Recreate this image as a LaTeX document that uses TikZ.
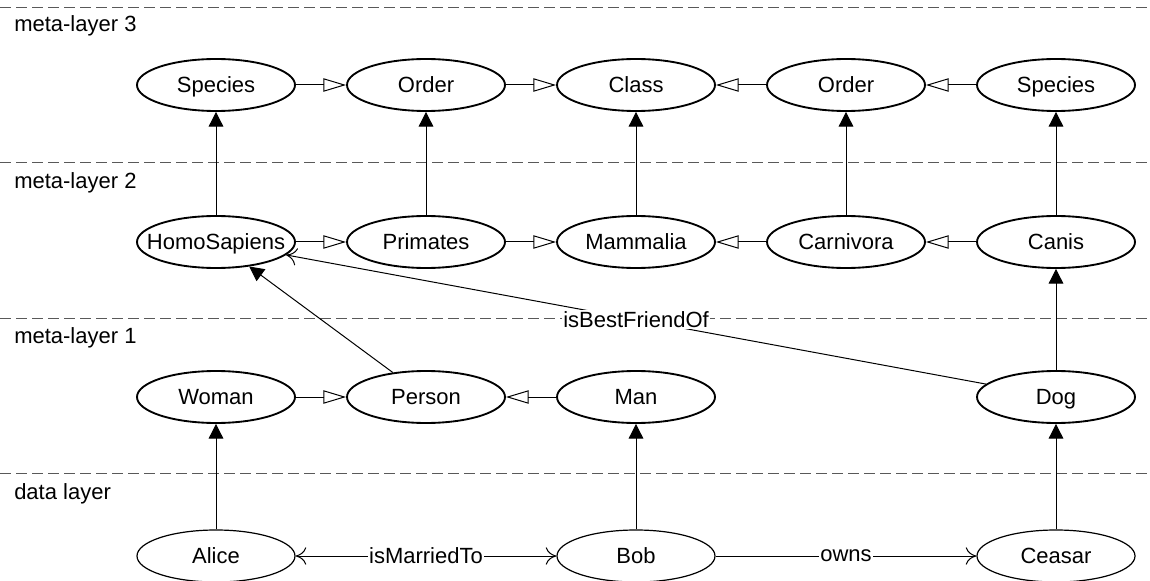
\documentclass[tikz,border=0pt]{standalone}
\usepackage{fontspec}
\setmainfont{Liberation Sans}
\usetikzlibrary{shapes.geometric,arrows.meta}
% a label that takes no width, so every ellipse keeps the same size
\newcommand\flatlabel[1]{\makebox[0pt]{#1}}
\begin{document}
\begin{tikzpicture}[x=0.75pt,y=-0.75pt,
  font=\fontsize{16.5pt}{19pt}\selectfont,
  layerline/.style={black!65,line width=0.75pt,dash pattern=on 8.25pt off 3.75pt},
  layername/.style={anchor=west,inner sep=0pt},
  anynode/.style={ellipse,draw,minimum width=118.5pt,minimum height=39pt,inner sep=0pt,text height=12pt,text depth=0.5pt},
  metanode/.style={anynode,line width=1.4pt},
  datanode/.style={anynode,line width=0.9pt},
  conn/.style={line width=0.75pt},
  subclass/.style={conn,-{Triangle[open,length=17pt,width=10pt]}},
  instanceof/.style={conn,-{Triangle[length=11pt,width=11pt]}},
  property/.style={conn,-{Computer Modern Rightarrow[length=8pt,width=13pt]}},
  bothprop/.style={conn,{Computer Modern Rightarrow[length=8pt,width=13pt]}-{Computer Modern Rightarrow[length=8pt,width=13pt]}},
  edgelabel/.style={fill=white,inner sep=1pt}]
\useasboundingbox (0,0) rectangle (1150,581);

% layer separators and their names
\coordinate (l3a) at (0,8);    \coordinate (l3b) at (1150,8);
\coordinate (l2a) at (0,163);  \coordinate (l2b) at (1150,163);
\coordinate (l1a) at (0,318);  \coordinate (l1b) at (1150,318);
\coordinate (l0a) at (0,473);  \coordinate (l0b) at (1150,473);
\draw[layerline] (l3a) -- (l3b);
\draw[layerline] (l2a) -- (l2b);
\draw[layerline] (l1a) -- (l1b);
\draw[layerline] (l0a) -- (l0b);
\node[layername] (n3) at (14,26) {meta-layer 3};
\node[layername] (n2) at (14,183) {meta-layer 2};
\node[layername] (n1) at (14,338) {meta-layer 1};
\node[layername] (n0) at (14,494) {data layer};

% meta-layer 3
\node[metanode] (species1) at (216,85) {\flatlabel{Species}};
\node[metanode] (order1)   at (426,85) {\flatlabel{Order}};
\node[metanode] (class)    at (636,85) {\flatlabel{Class}};
\node[metanode] (order2)   at (846,85) {\flatlabel{Order}};
\node[metanode] (species2) at (1056,85) {\flatlabel{Species}};

% meta-layer 2
\node[metanode] (homo)      at (216,242) {\flatlabel{HomoSapiens}};
\node[metanode] (primates)  at (426,242) {\flatlabel{Primates}};
\node[metanode] (mammalia)  at (636,242) {\flatlabel{Mammalia}};
\node[metanode] (carnivora) at (846,242) {\flatlabel{Carnivora}};
\node[metanode] (canis)     at (1056,242) {\flatlabel{Canis}};

% meta-layer 1
\node[metanode] (woman)  at (216,397) {\flatlabel{Woman}};
\node[metanode] (person) at (426,397) {\flatlabel{Person}};
\node[metanode] (man)    at (636,397) {\flatlabel{Man}};
\node[metanode] (dog)    at (1056,397) {\flatlabel{Dog}};

% data layer
\node[datanode] (alice)  at (216,556) {\flatlabel{Alice}};
\node[datanode] (bob)    at (636,556) {\flatlabel{Bob}};
\node[datanode] (ceasar) at (1056,556) {\flatlabel{Ceasar}};

% subclass relations
\draw[subclass] (species1) -- (order1);
\draw[subclass] (order1) -- (class);
\draw[subclass] (order2) -- (class);
\draw[subclass] (species2) -- (order2);
\draw[subclass] (homo) -- (primates);
\draw[subclass] (primates) -- (mammalia);
\draw[subclass] (carnivora) -- (mammalia);
\draw[subclass] (canis) -- (carnivora);
\draw[subclass] (woman) -- (person);
\draw[subclass] (man) -- (person);

% instance-of relations
\draw[instanceof] (homo) -- (species1);
\draw[instanceof] (primates) -- (order1);
\draw[instanceof] (mammalia) -- (class);
\draw[instanceof] (carnivora) -- (order2);
\draw[instanceof] (canis) -- (species2);
\draw[instanceof] (person) -- (homo);
\draw[instanceof] (dog) -- (canis);
\draw[instanceof] (alice) -- (woman);
\draw[instanceof] (bob) -- (man);
\draw[instanceof] (ceasar) -- (dog);

% properties
\draw[property] (dog) -- node[edgelabel] (bf) {isBestFriendOf} (homo);
\draw[bothprop] (alice) -- node[edgelabel] (mt) {isMarriedTo} (bob);
\draw[property] (bob) -- node[edgelabel] (ow) {owns} (ceasar);
\end{tikzpicture}
\end{document}
